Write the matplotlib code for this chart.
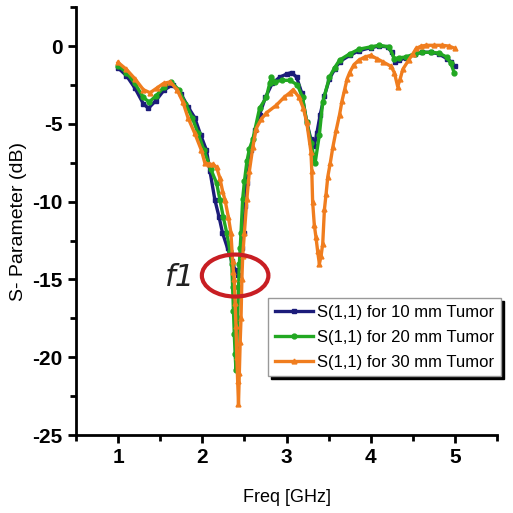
import matplotlib
matplotlib.use('Agg')
import matplotlib.pyplot as plt
from matplotlib.patches import Ellipse
from matplotlib.ticker import MultipleLocator

plt.rcParams['font.family'] = ['Liberation Sans', 'DejaVu Sans']
plt.rcParams['axes.unicode_minus'] = False

# S11 traces, frequency in GHz, magnitude in dB
freq_10 = [1.00, 1.10, 1.20, 1.30, 1.36, 1.45, 1.55, 1.65, 1.75, 1.83, 1.91, 1.98,
           2.05, 2.09, 2.15, 2.20, 2.24, 2.30, 2.35, 2.39, 2.42, 2.45, 2.47, 2.49,
           2.51, 2.53, 2.58, 2.63, 2.68, 2.75, 2.83, 2.92, 3.00, 3.06, 3.12, 3.18,
           3.24, 3.29, 3.33, 3.36, 3.40, 3.45, 3.51, 3.57, 3.63, 3.75, 3.86, 4.00,
           4.10, 4.20, 4.25, 4.29, 4.34, 4.42, 4.52, 4.61, 4.71, 4.81, 4.90, 4.95,
           5.00]
s11_10 = [-1.4, -1.9, -2.7, -3.7, -4.0, -3.5, -2.8, -2.5, -3.1, -3.9, -4.6, -5.7,
          -6.7, -8.0, -9.9, -11.0, -12.0, -13.0, -13.8, -14.4, -14.7, -14.0, -13.0, -12.0,
          -10.3, -8.8, -6.7, -5.4, -4.4, -3.3, -2.4, -2.0, -1.8, -1.7, -2.0, -3.0,
          -4.9, -6.0, -6.4, -5.6, -4.4, -3.2, -2.1, -1.5, -1.0, -0.6, -0.3, -0.1,
          0.0, -0.05, -0.4, -1.0, -0.9, -0.75, -0.5, -0.4, -0.4, -0.5, -0.8, -1.0,
          -1.3]

freq_20 = [1.00, 1.10, 1.20, 1.30, 1.37, 1.45, 1.55, 1.63, 1.72, 1.80, 1.88, 1.95,
           2.02, 2.10, 2.17, 2.21, 2.25, 2.29, 2.33, 2.35, 2.36, 2.37, 2.38, 2.39,
           2.40, 2.41, 2.42, 2.43, 2.44, 2.45, 2.46, 2.48, 2.50, 2.53, 2.56, 2.60,
           2.68, 2.76, 2.80, 2.82, 2.86, 2.95, 3.04, 3.13, 3.19, 3.24, 3.29, 3.34,
           3.39, 3.43, 3.51, 3.57, 3.63, 3.75, 3.86, 4.00, 4.10, 4.22, 4.28, 4.34,
           4.42, 4.52, 4.61, 4.71, 4.81, 4.90, 4.95, 4.99]
s11_20 = [-1.25, -1.7, -2.4, -3.3, -3.6, -3.2, -2.6, -2.3, -2.8, -3.7, -4.6, -5.6,
          -6.7, -7.9, -8.8, -9.9, -11.0, -12.0, -13.2, -14.0, -15.5, -17.0, -18.5, -19.8,
          -20.8, -19.5, -17.5, -15.5, -14.0, -13.0, -12.0, -9.8, -8.7, -7.4, -6.6, -6.0,
          -4.0, -3.3, -2.4, -2.0, -2.3, -2.2, -2.2, -2.5, -3.3, -4.9, -6.2, -7.5,
          -5.7, -3.6, -2.0, -1.4, -0.9, -0.5, -0.2, -0.05, 0.05, -0.05, -0.8, -0.75,
          -0.7, -0.5, -0.4, -0.4, -0.45, -0.7, -1.1, -1.7]

freq_30 = [1.00, 1.10, 1.20, 1.30, 1.38, 1.46, 1.54, 1.62, 1.70, 1.77, 1.83, 1.91,
           1.99, 2.03, 2.08, 2.13, 2.17, 2.21, 2.24, 2.27, 2.31, 2.34, 2.36, 2.37,
           2.38, 2.39, 2.40, 2.41, 2.42, 2.43, 2.44, 2.45, 2.46, 2.47, 2.48, 2.50,
           2.53, 2.56, 2.60, 2.64, 2.70, 2.76, 2.88, 2.97, 3.04, 3.08, 3.15, 3.20,
           3.24, 3.29, 3.30, 3.31, 3.33, 3.35, 3.37, 3.39, 3.41, 3.43, 3.45, 3.47,
           3.49, 3.52, 3.55, 3.59, 3.63, 3.66, 3.69, 3.72, 3.75, 3.80, 3.86, 3.93,
           4.00, 4.07, 4.14, 4.24, 4.28, 4.32, 4.35, 4.38, 4.45, 4.50, 4.54, 4.60,
           4.66, 4.75, 4.85, 4.93, 5.00]
s11_30 = [-1.05, -1.5, -2.1, -2.8, -3.0, -2.7, -2.4, -2.3, -2.8, -3.6, -4.6, -5.6,
          -6.7, -7.5, -7.6, -7.6, -7.8, -8.5, -9.3, -9.9, -11.0, -12.0, -13.8, -14.5,
          -15.0, -16.5, -18.0, -20.0, -21.5, -23.0, -21.0, -19.0, -17.5, -15.0, -13.5, -12.0,
          -9.8, -8.0, -6.5, -5.3, -4.7, -4.3, -3.8, -3.3, -3.0, -2.8, -3.3, -4.0,
          -4.9, -6.8, -8.0, -10.0, -11.5, -12.3, -13.2, -14.0, -13.5, -12.7, -10.5, -9.5,
          -8.4, -7.5, -6.5, -5.4, -4.4, -3.5, -2.8, -2.1, -1.7, -1.2, -0.9, -0.7,
          -0.6, -0.8, -1.0, -1.3, -1.7, -2.6, -2.1, -1.5, -0.9, -0.5, -0.15, 0.0,
          0.05, 0.05, 0.05, 0.0, -0.15]

labels = ['S(1,1) for 10 mm Tumor', 'S(1,1) for 20 mm Tumor', 'S(1,1) for 30 mm Tumor']
colors = ['#1c1c7a', '#22a822', '#f07d1e']
markers = ['s', 'o', '^']

xticks = [1, 2, 3, 4, 5]
xtick_labels = ['1', '2', '3', '4', '5']
yticks = [0, -5, -10, -15, -20, -25]
ytick_labels = ['0', '-5', '-10', '-15', '-20', '-25']

fig = plt.figure(figsize=(5.13, 5.13), dpi=100)
ax = fig.add_axes([0.148, 0.152, 0.821, 0.834])

for f, s, lab, c, m in zip([freq_10, freq_20, freq_30], [s11_10, s11_20, s11_30],
                           labels, colors, markers):
    ax.plot(f, s, color=c, lw=2.4, marker=m, ms=3.5, mec=c, mfc=c, label=lab)

# resonance marker
ax.add_patch(Ellipse((2.39, -14.75), 0.79, 2.7, fill=False, ec='#c81e23', lw=3, zorder=5))
ax.text(1.73, -14.9, 'f1', fontsize=22, style='italic', family='DejaVu Sans',
        ha='center', va='center', color='#222222')

ax.set_xlim(0.5, 5.5)
ax.set_ylim(-25, 2.5)
ax.set_xticks(xticks, xtick_labels, fontweight='bold', fontsize=15)
ax.set_yticks(yticks, ytick_labels, fontweight='bold', fontsize=15)
ax.xaxis.set_minor_locator(MultipleLocator(0.5))
ax.yaxis.set_minor_locator(MultipleLocator(2.5))

for side in ['top', 'right']:
    ax.spines[side].set_visible(False)
for side in ['left', 'bottom']:
    ax.spines[side].set_linewidth(2)
ax.tick_params(which='major', direction='out', length=6, width=2)
ax.tick_params(which='minor', direction='out', length=4, width=2)

ax.set_xlabel('Freq [GHz]', fontsize=13, labelpad=16)
ax.set_ylabel('S- Parameter (dB)', fontsize=14, labelpad=4)

leg = ax.legend(loc='upper left', bbox_to_anchor=(0.456, 0.32), fontsize=12,
                frameon=True, fancybox=False, edgecolor='#999999',
                shadow={'color': 'black', 'alpha': 1}, borderaxespad=0,
                handlelength=2.3, handletextpad=0.25, labelspacing=0.6,
                borderpad=0.4)
leg.get_frame().set_linewidth(1)

fig.savefig('out.png', dpi=100)
